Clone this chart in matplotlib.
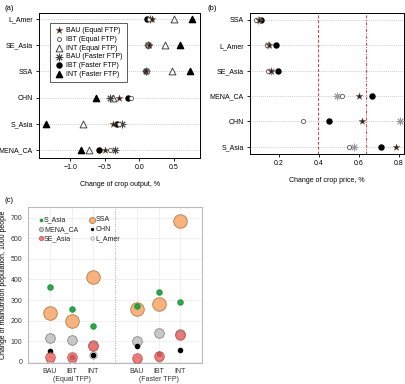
import numpy as np
import matplotlib
matplotlib.use("Agg")
import matplotlib.pyplot as plt

plt.rcParams['font.family'] = ['Liberation Sans', 'DejaVu Sans']

# (a) change of crop output, %
regions_a = ["L_Amer", "SE_Asia", "SSA", "CHN", "S_Asia", "MENA_CA"]
bau_eq_a = [0.18, 0.14, 0.10, -0.30, -0.38, -0.49]
ibt_eq_a = [0.14, 0.13, 0.11, -0.12, -0.30, -0.42]
int_eq_a = [0.50, 0.37, 0.47, -0.38, -0.81, -0.72]
bau_fa_a = [0.15, 0.13, 0.10, -0.42, -0.25, -0.35]
ibt_fa_a = [0.11, 0.12, 0.09, -0.17, -0.32, -0.58]
int_fa_a = [0.76, 0.59, 0.74, -0.62, -1.35, -0.84]

# (b) change of crop price, %
regions_b = ["SSA", "L_Amer", "SE_Asia", "MENA_CA", "CHN", "S_Asia"]
bau_eq_b = [0.100, 0.150, 0.158, 0.600, 0.613, 0.785]
ibt_eq_b = [0.085, 0.140, 0.147, 0.513, 0.318, 0.550]
bau_fa_b = [0.095, 0.147, 0.158, 0.490, 0.805, 0.577]
ibt_fa_b = [0.110, 0.185, 0.193, 0.667, 0.452, 0.710]
ref_lines_b = [0.395, 0.635]

# (c) change of malnutrition population, 1000 people
scen_labels = ["BAU", "IBT\n(Equal TFP)", "INT", "BAU", "IBT\n(Faster TFP)", "INT"]
scen_pos = [1, 2, 3, 5, 6, 7]
mal_s_asia = [365, 255, 175, 272, 340, 292]
mal_ssa = [235, 200, 412, 255, 282, 685]
mal_mena = [118, 105, 82, 100, 138, 135]
mal_chn = [55, 25, 35, 75, 38, 58]
mal_se_asia = [25, 22, 75, 20, 30, 128]
mal_l_amer = [10, 10, 35, 10, 20, 135]

fig = plt.figure(figsize=(4.06, 3.84), dpi=100)
fs = 5.0

# ---------- (a)
ax = fig.add_axes([0.096, 0.589, 0.397, 0.377])
y = np.arange(len(regions_a))[::-1] + 1
for v in y:
    ax.axhline(v, color="#bbbbbb", lw=0.6, ls=(0, (1, 1.5)), zorder=0)
ax.scatter(int_fa_a, y, marker="^", s=20, c="black", zorder=3, label="INT (Faster FTP)")
ax.scatter(int_eq_a, y, marker="^", s=24, facecolors="white", edgecolors="#444444", lw=0.7, zorder=3, label="INT (Equal FTP)")
ax.scatter(ibt_fa_a, y, marker="o", s=13, c="black", zorder=3, label="IBT (Faster FTP)")
ax.scatter(bau_fa_a, y, marker=(8, 2, 0), s=24, c="#444444", lw=0.7, zorder=4, label="BAU (Faster FTP)")
ax.scatter(ibt_eq_a, y, marker="o", s=9, facecolors="white", edgecolors="#555555", lw=0.6, zorder=4, label="IBT (Equal FTP)")
ax.scatter(bau_eq_a, y, marker="*", s=26, c="#1c1c3c", edgecolors="#8a5a2a", lw=0.3, zorder=5, label="BAU (Equal FTP)")
ax.set_yticks(y)
ax.set_yticklabels(regions_a)
ax.set_ylim(0.7, 6.23)
ax.set_xlim(-1.45, 0.88)
ax.set_xticks([-1.0, -0.5, 0.0, 0.5])
ax.tick_params(labelsize=fs, length=2.5, width=0.6, pad=2)
for sp in ax.spines.values():
    sp.set_linewidth(0.7)
ax.set_xlabel("Change of crop output, %", fontsize=fs, labelpad=7)
h, l = ax.get_legend_handles_labels()
order = ["BAU (Equal FTP)", "IBT (Equal FTP)", "INT (Equal FTP)", "BAU (Faster FTP)", "IBT (Faster FTP)", "INT (Faster FTP)"]
hd = dict(zip(l, h))
leg = ax.legend([hd[k] for k in order], order, loc="upper left", bbox_to_anchor=(0.045, 0.955),
                fontsize=fs, frameon=True, fancybox=False, edgecolor="#333333",
                handletextpad=0.4, borderpad=0.6, labelspacing=0.25, handlelength=1.4)
leg.get_frame().set_linewidth(0.7)
fig.text(0.012, 0.988, "(a)", fontsize=fs + 0.5, va="top")

# ---------- (b)
bx = fig.add_axes([0.616, 0.599, 0.379, 0.367])
yb = np.arange(len(regions_b))[::-1] + 1
for v in yb:
    bx.axhline(v, color="#bbbbbb", lw=0.6, ls=(0, (1, 1.5)), zorder=0)
bx.axvline(ref_lines_b[0], color="#ee3333", lw=0.7, ls=(0, (3, 2)), zorder=1)
bx.axvline(ref_lines_b[1], color="#ee3333", lw=0.7, ls=(0, (3, 1.5, 1, 1.5)), zorder=1)
bx.scatter(ibt_fa_b, yb, marker="o", s=13, c="black", zorder=3)
bx.scatter(bau_fa_b, yb, marker=(8, 2, 0), s=24, c="#999999", lw=0.7, zorder=3)
bx.scatter(ibt_eq_b, yb, marker="o", s=9, facecolors="white", edgecolors="#555555", lw=0.6, zorder=4)
bx.scatter(bau_eq_b, yb, marker="*", s=26, c="#1c1c3c", edgecolors="#8a5a2a", lw=0.3, zorder=5)
bx.set_yticks(yb)
bx.set_yticklabels(regions_b)
bx.set_ylim(0.72, 6.27)
bx.set_xlim(0.055, 0.825)
bx.set_xticks([0.2, 0.4, 0.6, 0.8])
bx.tick_params(labelsize=fs, length=2.5, width=0.6, pad=2)
for sp in bx.spines.values():
    sp.set_linewidth(0.7)
bx.set_xlabel("Change of crop price, %", fontsize=fs, labelpad=7)
fig.text(0.51, 0.988, "(b)", fontsize=fs + 0.5, va="top")

# ---------- (c)
cx = fig.add_axes([0.069, 0.055, 0.429, 0.406])
cx.set_axisbelow(True)
cx.grid(True, color="#eeeeee", lw=0.6)
cx.axvline(4, color="#aaaaaa", lw=0.7, ls=(0, (1, 1.5)))
cx.scatter(scen_pos, mal_l_amer, s=28, facecolors="white", edgecolors="#999999", lw=0.6, zorder=3, label="L_Amer")
cx.scatter(scen_pos, mal_mena, s=48, facecolors="#c8c8c8", edgecolors="#888888", lw=0.6, zorder=3, label="MENA_CA")
cx.scatter(scen_pos, mal_chn, s=9, c="black", zorder=4, label="CHN")
cx.scatter(scen_pos, mal_se_asia, s=48, facecolors="#ec6a6a", edgecolors="#c04848", lw=0.6, alpha=0.85, zorder=5, label="SE_Asia")
cx.scatter(scen_pos, mal_ssa, s=95, facecolors="#f7b27e", edgecolors="#b77a4a", lw=0.6, zorder=5, label="SSA")
cx.scatter(scen_pos, mal_s_asia, s=14, c="#1e9a3c", alpha=0.9, zorder=6, label="S_Asia")
cx.set_xlim(0, 8)
cx.set_ylim(-5, 752)
cx.set_xticks(scen_pos)
cx.set_xticklabels(scen_labels, linespacing=1.1)
cx.set_yticks(range(0, 701, 100))
cx.tick_params(labelsize=fs, length=0, pad=4, colors="#333333")
for sp in cx.spines.values():
    sp.set_color("#bbbbbb")
    sp.set_linewidth(0.8)
cx.set_ylabel("Change of malnutrition population, 1000 people", fontsize=fs, labelpad=3)
hc, lc = cx.get_legend_handles_labels()
hcd = dict(zip(lc, hc))
corder = ["S_Asia", "MENA_CA", "SE_Asia", "SSA", "CHN", "L_Amer"]
lg = cx.legend([hcd[k] for k in corder], corder, loc="upper left", bbox_to_anchor=(0.02, 0.98), ncol=2,
               fontsize=fs, frameon=False, markerscale=0.45, handletextpad=0.1,
               columnspacing=1.6, labelspacing=0.35, handlelength=0.8)
for t in lg.get_texts():
    t.set_color("#222222")
fig.text(0.012, 0.487, "(c)", fontsize=fs + 0.5, va="top")

fig.savefig("out.png", dpi=100)
